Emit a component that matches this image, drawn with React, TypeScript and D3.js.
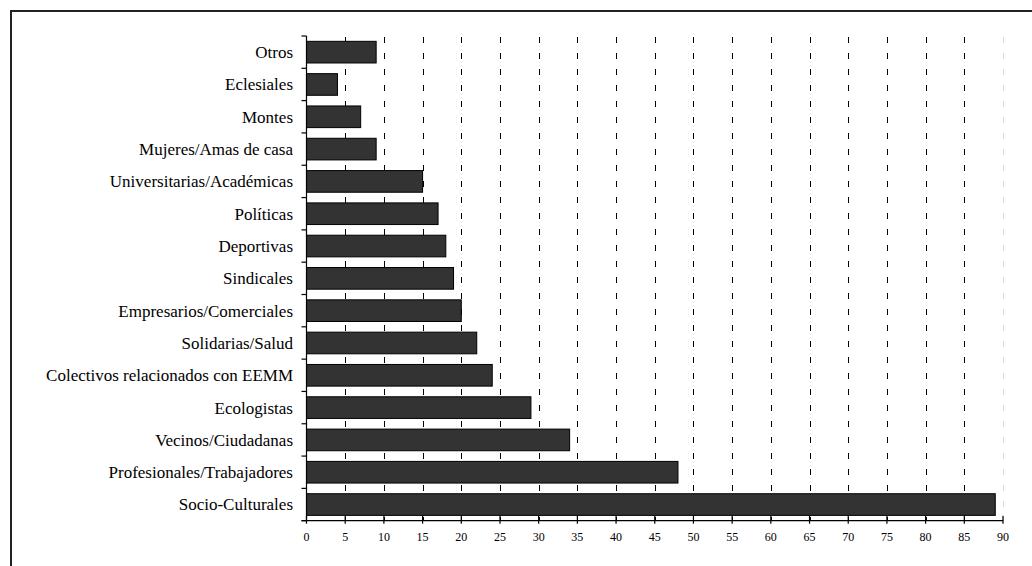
import React from "react";
import * as d3 from "d3";

const categories: string[] = [
  "Otros",
  "Eclesiales",
  "Montes",
  "Mujeres/Amas de casa",
  "Universitarias/Académicas",
  "Políticas",
  "Deportivas",
  "Sindicales",
  "Empresarios/Comerciales",
  "Solidarias/Salud",
  "Colectivos relacionados con EEMM",
  "Ecologistas",
  "Vecinos/Ciudadanas",
  "Profesionales/Trabajadores",
  "Socio-Culturales",
];
const values: number[] = [9, 4, 7, 9, 15, 17, 18, 19, 20, 22, 24, 29, 34, 48, 89];
const xTicks: number[] = d3.range(0, 91, 5);

const W = 1032;
const H = 566;
const left = 306.5;
const right = 1003;
const top = 36;
const bottom = 520.7;

export default function App() {
  const x = d3.scaleLinear().domain([0, 90]).range([left, right]);
  const y = d3
    .scaleBand<string>()
    .domain(categories)
    .range([top, bottom])
    .paddingInner(0.33)
    .paddingOuter(0.165);
  const step = y.step();
  const boundaries = d3.range(categories.length + 1).map((i) => top + i * step);
  const font = "'Liberation Serif', 'Times New Roman', serif";

  return (
    <svg
      width={W}
      height={H}
      style={{ position: "absolute", left: 0, top: 0, background: "#fff" }}
      fontFamily={font}
    >
      <rect x={0} y={0} width={W} height={H} fill="#fff" />
      {/* frame */}
      <rect x={11} y={11} width={W + 20} height={H + 20} fill="none" stroke="#222" strokeWidth={2} />
      {/* gridlines */}
      {xTicks
        .filter((t) => t > 0)
        .map((t) => (
          <line
            key={"g" + t}
            x1={Math.round(x(t)) + 0.5}
            x2={Math.round(x(t)) + 0.5}
            y1={top + 1}
            y2={bottom}
            stroke="#000"
            strokeWidth={1}
            strokeDasharray="6,10"
            opacity={t === 90 ? 0.15 : 1}
          />
        ))}
      {/* bars */}
      {categories.map((c, i) => (
        <rect
          key={c}
          x={x(0)}
          y={y(c) as number}
          width={x(values[i]) - x(0)}
          height={y.bandwidth()}
          fill="#333333"
          stroke="#000"
          strokeWidth={1}
        />
      ))}
      {/* y axis */}
      <line x1={left} x2={left} y1={top} y2={bottom} stroke="#000" strokeWidth={1.2} />
      {boundaries.map((b, i) => (
        <line key={"yt" + i} x1={left - 5} x2={left} y1={b} y2={b} stroke="#000" strokeWidth={1.2} />
      ))}
      {categories.map((c, i) => (
        <text
          key={"l" + c}
          x={293}
          y={boundaries[i] + step / 2}
          dy="0.35em"
          textAnchor="end"
          fontSize={17}
          fill="#000"
        >
          {c}
        </text>
      ))}
      {/* x axis */}
      <line x1={left - 5} x2={right} y1={bottom} y2={bottom} stroke="#000" strokeWidth={1.2} />
      {xTicks.map((t) => (
        <g key={"xt" + t}>
          <line x1={x(t)} x2={x(t)} y1={bottom - 5} y2={bottom + 3} stroke="#000" strokeWidth={1.2} />
          <text x={x(t)} y={541} textAnchor="middle" fontSize={12} fill="#000">
            {t}
          </text>
        </g>
      ))}
    </svg>
  );
}
